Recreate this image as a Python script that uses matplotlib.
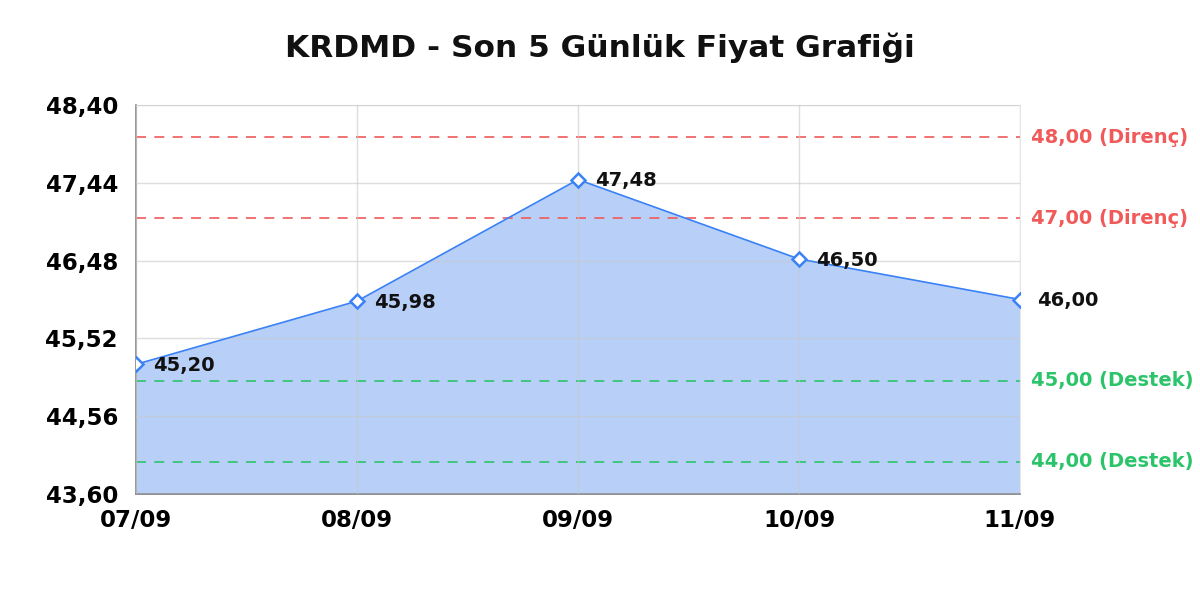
import matplotlib
matplotlib.use("Agg")
from matplotlib import pyplot as plt
import numpy as np

dates = ["07/09", "08/09", "09/09", "10/09", "11/09"]
prices = [45.20, 45.98, 47.48, 46.50, 46.00]
resistance = [48.00, 47.00]
support = [45.00, 44.00]
yticks = [43.60, 44.56, 45.52, 46.48, 47.44, 48.40]

blue = '#3b82f6'
red = '#f05a5a'
green = '#2cc46a'

def fmt(v):
    return ('%.2f' % v).replace('.', ',')

fig = plt.figure(figsize=(12, 6), dpi=100)
ax = fig.add_axes([136/1200., 1 - 494/600., 884/1200., 389/600.])

x = np.arange(len(dates))
ax.fill_between(x, prices, yticks[0], color='#b8d0f8', zorder=1)
ax.plot(x, prices, color=blue, lw=1.2, zorder=3)
ax.plot(x, prices, 'D', ms=7, mfc='white', mec=blue, mew=1.8, zorder=4)

for xi, p in zip(x, prices):
    ax.annotate(fmt(p), (xi, p), xytext=(12, -1), textcoords='offset points',
                ha='left', va='center', fontsize=14, fontweight='bold', color='#111111', zorder=5)

# support / resistance lines
for lvl in resistance:
    ax.axhline(lvl, color=red, ls=(0, (6, 5)), lw=1.2, zorder=2)
    ax.text(1.013, lvl, fmt(lvl) + ' (Direnç)', transform=ax.get_yaxis_transform(),
            ha='left', va='center', fontsize=14, fontweight='bold', color=red)
for lvl in support:
    ax.axhline(lvl, color=green, ls=(0, (6, 5)), lw=1.2, zorder=2)
    ax.text(1.013, lvl, fmt(lvl) + ' (Destek)', transform=ax.get_yaxis_transform(),
            ha='left', va='center', fontsize=14, fontweight='bold', color=green)

ax.set_xlim(0, len(dates) - 1)
ax.set_ylim(yticks[0], yticks[-1])
ax.set_xticks(x)
ax.set_xticklabels(dates, fontsize=16.5, fontweight='bold')
ax.set_yticks(yticks)
ax.set_yticklabels([fmt(v) for v in yticks], fontsize=16.5, fontweight='bold')
ax.tick_params(length=0)
ax.tick_params(axis='x', pad=11)
ax.tick_params(axis='y', pad=13)

ax.grid(True, color='#c8c8c8', alpha=0.6, lw=1, zorder=0)
ax.set_axisbelow(False)
for s in ['top', 'right']:
    ax.spines[s].set_color('#e6e6e6')
for s in ['left', 'bottom']:
    ax.spines[s].set_color('#888888')
    ax.spines[s].set_linewidth(1.2)

fig.text(0.5, 1 - 48/600., 'KRDMD - Son 5 Günlük Fiyat Grafiği', ha='center', va='center',
         fontsize=22.5, fontweight='bold', color='#111111')

fig.savefig('out.png', dpi=100)
